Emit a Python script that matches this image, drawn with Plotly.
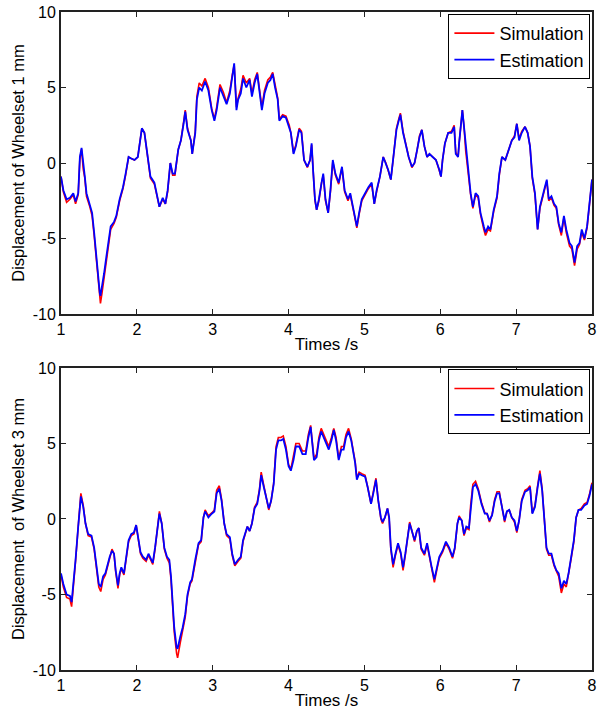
import plotly.graph_objects as go
from plotly.subplots import make_subplots

# ---- Wheelset 1 (top panel) ----
t1 = [1.000, 1.031, 1.074, 1.118, 1.162, 1.192, 1.227, 1.249, 1.271, 1.293, 1.314, 1.336, 1.380, 1.410,
      1.437, 1.467, 1.489, 1.511, 1.520, 1.541, 1.568, 1.598, 1.629, 1.655, 1.699, 1.729, 1.773, 1.817,
      1.852, 1.891, 1.926, 1.969, 2.013, 2.048, 2.066, 2.100, 2.135, 2.179, 2.231, 2.266, 2.297, 2.341,
      2.376, 2.406, 2.441, 2.472, 2.502, 2.546, 2.581, 2.616, 2.638, 2.668, 2.712, 2.730, 2.770, 2.791,
      2.822, 2.857, 2.900, 2.943, 2.987, 3.022, 3.052, 3.096, 3.139, 3.183, 3.226, 3.257, 3.283, 3.313,
      3.335, 3.370, 3.400, 3.443, 3.487, 3.517, 3.552, 3.587, 3.617, 3.648, 3.683, 3.726, 3.761, 3.791,
      3.822, 3.857, 3.878, 3.922, 3.965, 4.009, 4.030, 4.065, 4.096, 4.139, 4.170, 4.204, 4.248, 4.283,
      4.304, 4.326, 4.348, 4.370, 4.400, 4.435, 4.457, 4.487, 4.522, 4.552, 4.583, 4.617, 4.661, 4.704,
      4.739, 4.783, 4.813, 4.857, 4.900, 4.930, 4.965, 5.009, 5.052, 5.096, 5.130, 5.161, 5.204, 5.248,
      5.283, 5.313, 5.348, 5.378, 5.400, 5.422, 5.452, 5.474, 5.509, 5.552, 5.583, 5.626, 5.661, 5.696,
      5.726, 5.757, 5.791, 5.826, 5.857, 5.900, 5.943, 5.987, 6.009, 6.030, 6.061, 6.104, 6.148, 6.183,
      6.204, 6.235, 6.248, 6.291, 6.313, 6.335, 6.370, 6.400, 6.430, 6.465, 6.500, 6.530, 6.574, 6.596,
      6.630, 6.661, 6.704, 6.748, 6.778, 6.813, 6.857, 6.900, 6.943, 6.978, 7.009, 7.039, 7.074, 7.117,
      7.152, 7.183, 7.213, 7.248, 7.283, 7.313, 7.343, 7.378, 7.404, 7.430, 7.465, 7.500, 7.530, 7.561,
      7.596, 7.630, 7.661, 7.704, 7.735, 7.770, 7.804, 7.835, 7.865, 7.900, 7.935, 7.965, 8.000]
est1 = [-0.9, -1.8, -2.4, -2.3, -2.0, -2.55, -2.0, 0.4, 1.0, -0.25, -0.9, -2.0, -2.7, -3.3,
        -4.6, -6.4, -7.5, -8.6, -8.8, -8.2, -7.3, -6.2, -4.9, -4.2, -3.9, -3.5, -2.4, -1.6,
        -0.7, 0.4, 0.3, 0.2, 0.4, 1.5, 2.3, 2.0, 0.6, -0.9, -1.3, -2.2, -2.9, -2.3,
        -2.7, -1.8, 0.0, -0.7, -0.7, 0.9, 1.5, 2.6, 3.4, 2.2, 1.5, 0.6, 2.0, 4.2,
        5.0, 4.8, 5.4, 4.8, 3.5, 2.8, 3.5, 5.0, 4.5, 3.9, 4.6, 5.7, 6.6, 3.5,
        4.2, 4.6, 5.6, 5.0, 5.5, 4.4, 5.3, 5.9, 4.6, 3.5, 4.6, 5.3, 5.5, 5.9,
        5.0, 4.2, 2.8, 3.1, 3.0, 2.4, 2.0, 0.6, 1.1, 2.2, 2.0, 0.2, -0.25, 0.2,
        1.3, -0.7, -2.4, -3.1, -2.4, -1.3, -0.7, -2.4, -3.3, -1.8, 0.2, -0.7, -1.3, -0.25,
        -1.8, -2.4, -2.0, -3.1, -4.2, -3.3, -2.4, -2.0, -1.6, -1.3, -2.7, -1.8, -0.9, 0.4,
        0.0, -0.45, -1.1, 0.2, 1.1, 2.2, 2.8, 3.2, 2.0, 1.1, 0.4, -0.25, 0.0, 0.9,
        1.7, 2.2, 1.1, 0.4, 0.6, 0.4, 0.2, -0.45, -0.9, 0.2, 1.3, 2.0, 2.0, 2.4,
        0.6, 0.4, 1.3, 3.5, 2.4, 0.9, -0.7, -2.0, -2.9, -2.0, -2.2, -3.3, -4.2, -4.6,
        -4.2, -4.4, -3.1, -2.2, -0.7, 0.4, 0.2, 0.9, 1.5, 1.7, 2.6, 1.5, 2.0, 2.4,
        2.0, 1.1, -0.9, -2.0, -4.4, -2.9, -2.2, -1.6, -1.1, -2.4, -2.2, -2.7, -2.9, -4.0,
        -4.6, -3.5, -4.4, -5.3, -5.5, -6.6, -5.5, -5.3, -4.4, -5.0, -4.2, -2.9, -1.1]
sim1 = [-0.9, -1.9, -2.6, -2.4, -2.1, -2.7, -2.1, 0.3, 0.9, -0.4, -1.0, -2.2, -2.9, -3.5,
        -4.8, -6.6, -7.8, -8.9, -9.3, -8.6, -7.6, -6.4, -5.1, -4.4, -4.0, -3.6, -2.5, -1.7,
        -0.8, 0.4, 0.3, 0.2, 0.4, 1.5, 2.3, 2.0, 0.5, -1.0, -1.4, -2.3, -2.9, -2.4,
        -2.7, -1.9, 0.0, -0.8, -0.8, 0.9, 1.5, 2.7, 3.5, 2.3, 1.5, 0.6, 2.1, 4.4,
        5.3, 5.1, 5.6, 5.0, 3.6, 2.9, 3.7, 5.2, 4.7, 4.0, 4.8, 5.8, 6.5, 3.7,
        4.3, 4.9, 5.8, 5.3, 5.6, 4.6, 5.5, 6.0, 4.7, 3.7, 4.8, 5.5, 5.7, 6.0,
        5.2, 4.3, 2.9, 3.2, 3.1, 2.5, 2.0, 0.7, 1.2, 2.3, 2.1, 0.2, -0.3, 0.2,
        1.2, -0.8, -2.5, -3.1, -2.5, -1.3, -0.8, -2.5, -3.3, -1.9, 0.1, -0.8, -1.4, -0.3,
        -1.9, -2.5, -2.1, -3.2, -4.3, -3.4, -2.5, -2.1, -1.7, -1.4, -2.7, -1.9, -0.9, 0.4,
        0.0, -0.5, -1.1, 0.2, 1.1, 2.3, 2.9, 3.3, 2.1, 1.1, 0.4, -0.3, 0.0, 0.9,
        1.8, 2.2, 1.1, 0.4, 0.6, 0.4, 0.2, -0.5, -0.9, 0.2, 1.3, 2.0, 2.1, 2.5,
        0.7, 0.4, 1.3, 3.5, 2.4, 0.8, -0.8, -2.1, -3.0, -2.1, -2.3, -3.4, -4.4, -4.8,
        -4.4, -4.5, -3.2, -2.3, -0.8, 0.4, 0.2, 0.9, 1.5, 1.8, 2.6, 1.6, 2.1, 2.4,
        2.0, 1.1, -1.0, -2.1, -4.4, -3.0, -2.3, -1.7, -1.2, -2.5, -2.3, -2.8, -3.0, -4.1,
        -4.8, -3.6, -4.6, -5.5, -5.7, -6.8, -5.7, -5.4, -4.6, -5.1, -4.3, -3.0, -1.1]

# ---- Wheelset 3 (bottom panel) ----
t3 = [1.000, 1.031, 1.074, 1.118, 1.140, 1.162, 1.192, 1.227, 1.249, 1.262, 1.293, 1.323, 1.358, 1.402,
      1.437, 1.467, 1.498, 1.524, 1.555, 1.585, 1.611, 1.642, 1.672, 1.699, 1.721, 1.751, 1.773, 1.795,
      1.830, 1.860, 1.891, 1.926, 1.961, 1.991, 2.013, 2.048, 2.079, 2.122, 2.153, 2.188, 2.210, 2.240,
      2.275, 2.297, 2.328, 2.362, 2.397, 2.428, 2.450, 2.472, 2.493, 2.524, 2.537, 2.572, 2.603, 2.638,
      2.668, 2.703, 2.726, 2.770, 2.813, 2.848, 2.878, 2.900, 2.943, 2.987, 3.022, 3.052, 3.087, 3.117,
      3.152, 3.183, 3.226, 3.257, 3.291, 3.335, 3.370, 3.400, 3.430, 3.457, 3.487, 3.517, 3.552, 3.587,
      3.617, 3.639, 3.674, 3.704, 3.739, 3.770, 3.804, 3.835, 3.865, 3.900, 3.930, 3.965, 4.000, 4.030,
      4.065, 4.096, 4.139, 4.183, 4.226, 4.261, 4.291, 4.313, 4.335, 4.370, 4.400, 4.430, 4.465, 4.487,
      4.530, 4.565, 4.596, 4.626, 4.661, 4.696, 4.726, 4.757, 4.791, 4.826, 4.857, 4.878, 4.900, 4.930,
      4.965, 5.009, 5.043, 5.087, 5.117, 5.152, 5.183, 5.217, 5.239, 5.270, 5.304, 5.326, 5.348, 5.378,
      5.409, 5.443, 5.478, 5.509, 5.539, 5.574, 5.596, 5.626, 5.661, 5.691, 5.717, 5.748, 5.791, 5.826,
      5.857, 5.887, 5.922, 5.957, 5.987, 6.030, 6.074, 6.117, 6.161, 6.191, 6.226, 6.248, 6.283, 6.313,
      6.343, 6.378, 6.400, 6.430, 6.465, 6.500, 6.543, 6.587, 6.617, 6.648, 6.683, 6.717, 6.748, 6.778,
      6.813, 6.848, 6.878, 6.909, 6.943, 6.978, 7.009, 7.039, 7.074, 7.117, 7.152, 7.183, 7.213, 7.248,
      7.283, 7.313, 7.343, 7.370, 7.400, 7.430, 7.465, 7.500, 7.530, 7.561, 7.596, 7.630, 7.661, 7.691,
      7.726, 7.761, 7.791, 7.822, 7.857, 7.900, 7.935, 7.965, 8.000]
est3 = [-3.6, -4.3, -5.0, -5.1, -5.5, -4.5, -2.7, -0.5, 1.0, 1.5, 0.8, -0.3, -1.0, -1.1,
        -1.9, -3.2, -4.3, -4.5, -3.8, -3.6, -3.0, -2.5, -2.1, -2.3, -3.4, -4.4, -3.6, -3.2,
        -3.6, -2.5, -1.4, -1.0, -0.9, -0.4, -1.0, -2.2, -2.5, -2.7, -2.3, -2.7, -2.9, -1.9,
        -0.3, 0.35, -0.3, -1.9, -2.5, -2.7, -3.8, -5.4, -7.2, -8.5, -8.6, -7.8, -7.2, -6.3,
        -5.0, -4.2, -4.0, -2.7, -1.6, -1.4, 0.1, 0.5, 0.1, 0.35, 0.5, 1.7, 2.0, 1.2,
        -0.3, -1.0, -1.2, -2.3, -3.0, -2.7, -2.5, -1.4, -1.0, -0.5, -0.8, -0.3, 0.7, 1.0,
        1.9, 2.9, 2.1, 1.5, 0.7, 1.2, 2.3, 4.6, 5.2, 5.2, 5.3, 4.6, 3.5, 3.2,
        3.9, 4.8, 4.8, 4.3, 4.3, 5.4, 6.1, 5.0, 3.9, 4.1, 5.2, 5.8, 5.4, 5.2,
        4.6, 5.2, 5.9, 5.2, 3.9, 4.6, 4.6, 5.4, 5.8, 5.2, 4.3, 3.7, 2.6, 3.0,
        2.9, 2.8, 2.1, 1.0, 1.7, 2.6, 1.2, 0.1, -0.2, 0.1, 0.7, 0.1, -1.9, -3.0,
        -2.3, -1.6, -2.2, -3.2, -2.3, -1.2, -0.3, -0.8, -1.4, -0.8, -0.6, -1.9, -2.3, -1.6,
        -2.5, -3.2, -4.0, -3.2, -2.5, -2.1, -1.5, -1.9, -2.5, -1.9, -0.3, 0.1, -0.1, -1.0,
        -0.5, -0.6, 0.8, 2.1, 2.3, 1.9, 1.0, 0.35, 0.35, -0.1, 0.25, 1.2, 1.7, 1.7,
        0.8, -0.1, 0.5, 0.6, 0.1, -0.1, -0.8, -0.1, 1.2, 1.8, 1.9, 2.1, 0.35, 0.8,
        2.1, 3.0, 1.9, 0.35, -1.9, -2.3, -2.3, -3.0, -3.4, -3.6, -4.6, -4.1, -4.3, -3.6,
        -2.5, -1.4, 0.1, 0.6, 0.6, 0.9, 1.0, 1.5, 2.3]
sim3 = [-3.7, -4.5, -5.2, -5.3, -5.8, -4.7, -2.8, -0.5, 1.1, 1.7, 0.9, -0.3, -1.1, -1.2,
        -2.0, -3.3, -4.5, -4.8, -4.0, -3.7, -3.1, -2.6, -2.0, -2.3, -3.5, -4.6, -3.7, -3.3,
        -3.7, -2.6, -1.5, -1.1, -1.0, -0.4, -1.1, -2.3, -2.6, -2.8, -2.4, -2.8, -3.0, -2.0,
        -0.2, 0.5, -0.3, -2.0, -2.6, -2.9, -4.0, -5.6, -7.5, -8.9, -9.2, -8.2, -7.5, -6.5,
        -5.1, -4.3, -4.1, -2.8, -1.7, -1.5, 0.1, 0.6, 0.2, 0.4, 0.6, 1.9, 2.2, 1.3,
        -0.3, -1.1, -1.3, -2.4, -3.1, -2.8, -2.6, -1.5, -1.0, -0.5, -0.8, -0.3, 0.8, 1.1,
        2.0, 3.1, 2.2, 1.5, 0.6, 1.2, 2.4, 4.8, 5.4, 5.4, 5.5, 4.8, 3.6, 3.3,
        4.1, 5.0, 5.0, 4.5, 4.5, 5.6, 6.2, 5.1, 4.0, 4.3, 5.4, 6.0, 5.6, 5.4,
        4.8, 5.4, 6.0, 5.4, 4.0, 4.8, 4.8, 5.6, 6.0, 5.3, 4.4, 3.8, 2.7, 3.1,
        3.0, 2.9, 2.1, 1.0, 1.8, 2.7, 1.2, 0.0, -0.3, 0.1, 0.7, 0.0, -2.0, -3.2,
        -2.4, -1.7, -2.3, -3.4, -2.4, -1.2, -0.2, -0.8, -1.5, -0.8, -0.6, -2.0, -2.4, -1.7,
        -2.6, -3.3, -4.2, -3.3, -2.6, -2.2, -1.6, -2.0, -2.6, -2.0, -0.3, 0.2, -0.1, -1.1,
        -0.6, -0.7, 0.9, 2.3, 2.5, 2.0, 1.1, 0.4, 0.35, -0.2, 0.3, 1.3, 1.8, 1.8,
        0.8, -0.2, 0.5, 0.6, 0.1, -0.2, -0.9, -0.1, 1.3, 1.9, 2.0, 2.2, 0.4, 0.9,
        2.2, 3.2, 2.0, 0.3, -2.0, -2.4, -2.4, -3.1, -3.5, -3.8, -4.9, -4.3, -4.5, -3.7,
        -2.6, -1.5, 0.1, 0.6, 0.7, 1.0, 1.1, 1.6, 2.4]

xticks = [1, 2, 3, 4, 5, 6, 7, 8]
yticks = [-10, -5, 0, 5, 10]
ylabel1 = "Displacement of Wheelset 1 mm"
ylabel3 = "Displacement \u00a0of Wheelset 3 mm"
xlabel = "Times /s"

FONT = "Liberation Sans, Arial, sans-serif"

fig = make_subplots(rows=2, cols=1, vertical_spacing=0.082)

fig.add_trace(go.Scatter(x=t1, y=sim1, mode="lines", name="Simulation",
                         line=dict(color="#ff0000", width=1.6), legend="legend"), row=1, col=1)
fig.add_trace(go.Scatter(x=t1, y=est1, mode="lines", name="Estimation",
                         line=dict(color="#0000ff", width=1.8), legend="legend"), row=1, col=1)
fig.add_trace(go.Scatter(x=t3, y=sim3, mode="lines", name="Simulation",
                         line=dict(color="#ff0000", width=1.6), legend="legend2"), row=2, col=1)
fig.add_trace(go.Scatter(x=t3, y=est3, mode="lines", name="Estimation",
                         line=dict(color="#0000ff", width=1.8), legend="legend2"), row=2, col=1)

axis_common = dict(showgrid=False, zeroline=False, showline=True, mirror="ticks",
                   linecolor="#222222", linewidth=2, ticks="inside", ticklen=5,
                   tickcolor="#222222", tickfont=dict(family=FONT, size=16, color="black"))

for r, yl in [(1, ylabel1), (2, ylabel3)]:
    fig.update_xaxes(range=[1, 8], tickvals=xticks, ticktext=[str(v) for v in xticks],
                     title=dict(text=xlabel, font=dict(family=FONT, size=17, color="black"), standoff=1),
                     row=r, col=1, **axis_common)
    fig.update_yaxes(range=[-10, 10], tickvals=yticks, ticktext=[str(v) for v in yticks],
                     title=dict(text=yl, font=dict(family=FONT, size=16.5, color="black"), standoff=4),
                     row=r, col=1, **axis_common)

legend_common = dict(xanchor="right", yanchor="top", bordercolor="black", borderwidth=1,
                     bgcolor="white", font=dict(family=FONT, size=18, color="black"),
                     tracegroupgap=0, itemwidth=40)
fig.update_layout(
    width=600, height=710,
    margin=dict(l=61, r=3, t=12, b=39),
    paper_bgcolor="white", plot_bgcolor="white",
    font=dict(family=FONT, size=16, color="black"),
    legend=dict(x=0.997, y=0.997, **legend_common),
    legend2=dict(x=0.997, y=0.457, **legend_common),
)

fig.write_html("out.html")
